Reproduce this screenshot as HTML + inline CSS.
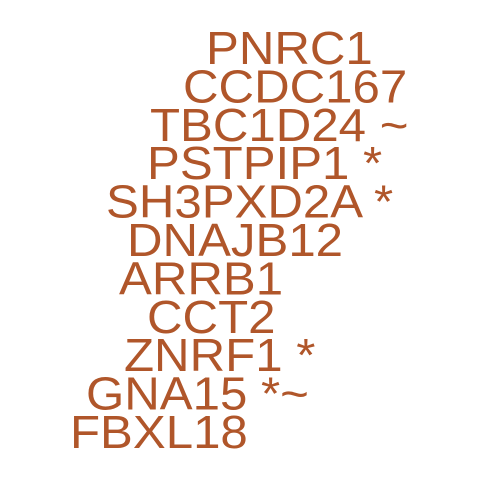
<!DOCTYPE html>
<html><head><meta charset="utf-8"><style>
html,body{margin:0;padding:0;background:#fff;}
svg{display:block;}
text{font-family:"Liberation Sans",sans-serif;font-size:46px;fill:#B0562A;}
</style></head><body>
<svg id="chart" width="480" height="480" viewBox="0 0 480 480"></svg>
<script>
const labels=["PNRC1","CCDC167","TBC1D24 ~","PSTPIP1 *","SH3PXD2A *","DNAJB12","ARRB1","CCT2","ZNRF1 *","GNA15 *~","FBXL18"];
const xPos=[206,183,150,147,106,127,119,147,124,86,70];
const svg=document.getElementById('chart');
labels.forEach((l,i)=>{
  const t=document.createElementNS('http://www.w3.org/2000/svg','text');
  t.setAttribute('x',0);
  t.setAttribute('y',0);
  t.setAttribute('transform','translate('+xPos[i]+','+(64+i*38.4)+') scale(1.07,1)');
  t.textContent=l;
  
  
  svg.appendChild(t);
});
</script>
</body></html>
